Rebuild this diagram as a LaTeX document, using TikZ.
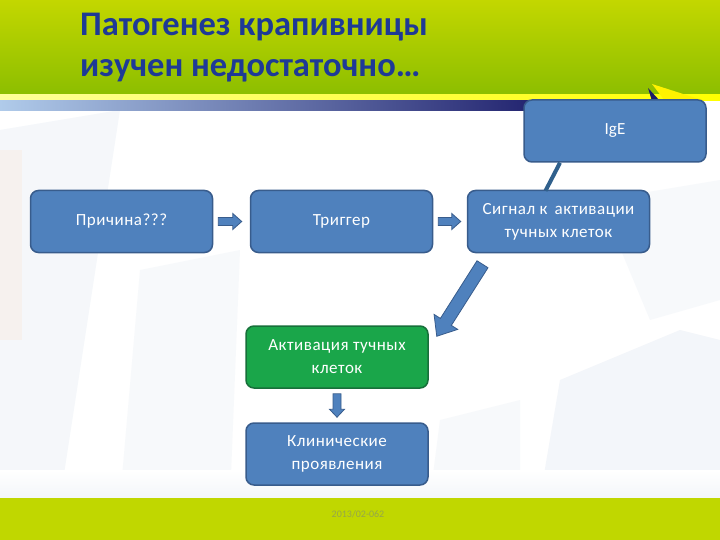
\documentclass[tikz,border=0pt]{standalone}
\usepackage{fontspec}
\setmainfont{Carlito}
\usetikzlibrary{calc}
\definecolor{bfill}{HTML}{4F81BD}
\definecolor{bdr}{HTML}{385C8C}
\definecolor{lnk}{HTML}{30608C}
\definecolor{gfill}{HTML}{1AA64A}
\definecolor{gbdr}{HTML}{17703A}
\definecolor{ttl}{HTML}{1E3A96}
\definecolor{hdrtop}{HTML}{C3D700}
\definecolor{hdrbot}{HTML}{8CBE00}
\definecolor{ftr}{HTML}{C0D700}
\definecolor{ftrtxt}{HTML}{95A64A}
\definecolor{navy}{HTML}{1C1C6A}
\definecolor{ltblue}{HTML}{B0CBEA}
\definecolor{haze}{HTML}{9DB6D6}
\newcommand\blockarr[5]{%
  \draw[barr] let \p1=(#1), \p2=(#2),
    \n1={atan2(\y2-\y1,\x2-\x1)},
    \n2={veclen(\x2-\x1,\y2-\y1)-#5pt},
    \n3={#4pt-#3pt} in
    (\p1) -- ++(\n1+90:#3pt) -- ++(\n1:\n2) -- ++(\n1+90:\n3) -- (\p2)
    -- ($(\p1)+(\n1:\n2)+(\n1-90:#4pt)$) -- ++(\n1+90:\n3)
    -- ++(\n1+180:\n2) -- cycle;}
\begin{document}
\begin{tikzpicture}[x=1pt,y=-1pt,
  box/.style={draw=bdr, fill=bfill, line width=1.5pt, rounded corners=8pt,
    minimum width=182pt, minimum height=62pt, inner sep=0pt, text=white,
    align=center, font=\fontsize{17}{23}\selectfont\addfontfeatures{LetterSpace=3}},
  gbox/.style={box, draw=gbdr, fill=gfill},
  barr/.style={draw=bdr, fill=bfill, line width=0.8pt, line join=miter},
  link/.style={draw=lnk, line width=4pt},
  ttlfont/.style={text=ttl, font=\fontsize{34.5}{40}\selectfont\bfseries, inner sep=0pt, anchor=base west}]
\useasboundingbox (0,0) rectangle (720,540);
% background
\fill[white] (0,0) rectangle (720,540);
\fill[haze, opacity=0.10] (0,130) -- (120,110) -- (60,500) -- (0,500) -- cycle;
\fill[orange!40, opacity=0.12] (0,150) rectangle (22,340);
\fill[haze, opacity=0.08] (140,270) -- (240,250) -- (230,500) -- (120,500) -- cycle;
\fill[haze, opacity=0.12] (560,380) -- (680,330) -- (720,340) -- (720,498) -- (540,498) -- cycle;
\fill[haze, opacity=0.08] (440,420) -- (520,400) -- (520,498) -- (430,498) -- cycle;
\fill[haze, opacity=0.08] (600,200) -- (720,180) -- (720,300) -- (650,320) -- cycle;
% header
\shade[top color=hdrtop, bottom color=hdrbot] (0,0) rectangle (720,95);
\shade[left color=yellow!40!white, right color=yellow] (0,95) rectangle (720,101);
\shade[left color=ltblue, right color=navy] (0,101) rectangle (560,111);
\fill[yellow] (652,84) -- (705,101) -- (665,101) -- cycle;
\fill[navy] (648,88) -- (660,101) -- (652,101) -- cycle;
% footer
\shade[top color=white, bottom color=white!88!haze] (0,470) rectangle (720,498);
\fill[ftr] (0,498) rectangle (720,540);
% title
\node[ttlfont] (t1) at (80,36) {Патогенез крапивницы};
\node[ttlfont] (t2) at (80,77) {изучен недостаточно…};
% boxes
\node[box, font=\fontsize{17}{23}\selectfont] (I) at (615,131) {IgE};
\node[box] (P) at (121.5,221.5) {Причина???};
\node[box] (T) at (341.5,221.5) {Триггер};
\node[box] (S) at (558.5,221.5) {Сигнал к\, активации\\тучных клеток};
\node[gbox] (A) at (337,357) {Активация тучных\\клеток};
\node[box] (K) at (337,454) {Клинические\\проявления};
% connectors
\draw[link] ($(I.south)+(-55,0)$) -- ($(S.north)+(-13,1)$);
\blockarr{$(P.east)+(5,0)$}{$(T.west)+(-8,0)$}{4}{8}{9}
\blockarr{$(T.east)+(5,0)$}{$(S.west)+(-6,0)$}{4}{8}{9}
\blockarr{$(S.south)+(-76,11)$}{$(A.north east)+(8,11)$}{6.5}{14}{17}
\blockarr{$(A.south)+(0,5)$}{$(K.north)+(0,-5)$}{4}{7.5}{8}
% footer text
\node[text=ftrtxt, font=\fontsize{10}{11}\selectfont] (ft) at (358,514) {2013/02-062};
\end{tikzpicture}
\end{document}
